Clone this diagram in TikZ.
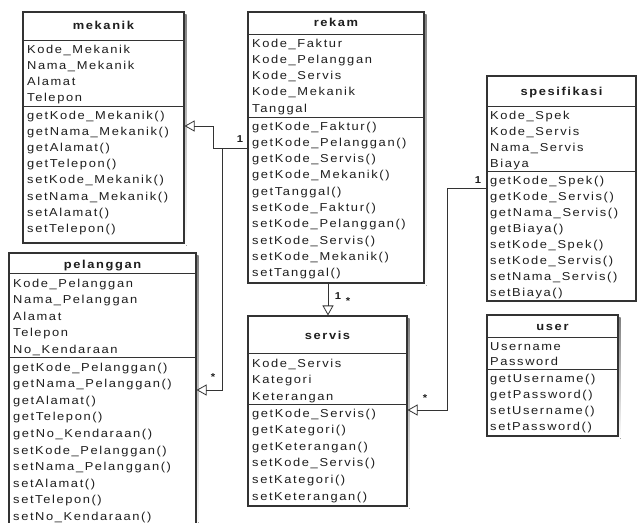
\documentclass[tikz,border=0pt]{standalone}
\usepackage{fontspec}
\setmainfont{Liberation Sans}[LetterSpace=14, FakeStretch=1.12]
\usetikzlibrary{arrows.meta}
\definecolor{txt}{HTML}{1E1E1E}
\definecolor{edge}{HTML}{333333}
\definecolor{shade}{HTML}{B8B8B8}
\tikzset{
  classbox/.style={draw=edge, line width=1.1pt, fill=white, inner sep=0pt},
  sepline/.style={draw=edge, line width=0.9pt},
  rowtext/.style={anchor=base west, inner sep=0pt, text=txt, font=\fontsize{11.5}{13}\selectfont},
  titletext/.style={anchor=base, inner sep=0pt, text=txt, font=\fontsize{11.5}{13}\selectfont\bfseries},
  gen/.style={draw=edge, line width=0.8pt, -{Triangle[open, length=10pt, width=11pt, line width=0.8pt]}},
  conn/.style={draw=edge, line width=0.8pt},
  mult/.style={inner sep=0pt, text=txt, font=\fontsize{10}{12}\selectfont\bfseries}
}
% #1 name, #2 x1, #3 x2, #4 top, #5 header line, #6 divider, #7 bottom, #8 title centre y, #9 title
\newcommand\umlbox[9]{%
  \fill[shade] (#2+2.5,#4+2.5) rectangle (#3+2.5,#7+2.5);
  \node[classbox, minimum width={#3-#2}, minimum height={#7-#4}] (#1) at ({(#2+#3)/2},{(#4+#7)/2}) {};
  \draw[sepline] (#2,#5) -- (#3,#5);
  \draw[sepline] (#2,#6) -- (#3,#6);
  \node[titletext] (#1-title) at ({(#2+#3)/2},#8+4) {#9};
}
% #1 prefix, #2 x, #3 first centre y, #4 pitch, #5 list
\newcommand\umlrows[5]{%
  \foreach \t [count=\i from 0] in {#5}
    \node[rowtext] (#1\i) at (#2,{#3+\i*#4+4}) {\t};
}
\begin{document}
\begin{tikzpicture}[x=1pt,y=-1pt]
\useasboundingbox[fill=white] (0,0) rectangle (637,522);

% mekanik
\umlbox{mekanik}{23}{184}{12}{40}{106}{243}{25}{mekanik}
\umlrows{mek-a}{27}{49}{16.2}{Kode\_Mekanik,Nama\_Mekanik,Alamat,Telepon}
\umlrows{mek-m}{27}{115}{16.2}{getKode\_Mekanik(),getNama\_Mekanik(),getAlamat(),getTelepon(),setKode\_Mekanik(),setNama\_Mekanik(),setAlamat(),setTelepon()}

% rekam
\umlbox{rekam}{248}{424}{12}{34}{117}{283}{22}{rekam}
\umlrows{rek-a}{252}{43}{16.3}{Kode\_Faktur,Kode\_Pelanggan,Kode\_Servis,Kode\_Mekanik,Tanggal}
\umlrows{rek-m}{252}{126}{16.3}{getKode\_Faktur(),getKode\_Pelanggan(),getKode\_Servis(),getKode\_Mekanik(),getTanggal(),setKode\_Faktur(),setKode\_Pelanggan(),setKode\_Servis(),setKode\_Mekanik(),setTanggal()}

% spesifikasi
\umlbox{spesifikasi}{487}{636}{76}{106}{171}{301}{91}{spesifikasi}
\umlrows{spe-a}{490}{115}{16}{Kode\_Spek,Kode\_Servis,Nama\_Servis,Biaya}
\umlrows{spe-m}{490}{180}{16}{getKode\_Spek(),getKode\_Servis(),getNama\_Servis(),getBiaya(),setKode\_Spek(),setKode\_Servis(),setNama\_Servis(),setBiaya()}

% servis
\umlbox{servis}{248}{407}{316}{353}{404}{506}{335}{servis}
\umlrows{ser-a}{252}{363}{16.5}{Kode\_Servis,Kategori,Keterangan}
\umlrows{ser-m}{252}{413}{16.6}{getKode\_Servis(),getKategori(),getKeterangan(),setKode\_Servis(),setKategori(),setKeterangan()}

% pelanggan
\umlbox{pelanggan}{9}{196}{253}{273}{357}{532}{264}{pelanggan}
\umlrows{pel-a}{13}{283}{16.5}{Kode\_Pelanggan,Nama\_Pelanggan,Alamat,Telepon,No\_Kendaraan}
\umlrows{pel-m}{13}{367}{16.6}{getKode\_Pelanggan(),getNama\_Pelanggan(),getAlamat(),getTelepon(),getNo\_Kendaraan(),setKode\_Pelanggan(),setNama\_Pelanggan(),setAlamat(),setTelepon(),setNo\_Kendaraan()}

% user
\umlbox{user}{487}{618}{315}{337}{369}{436}{326}{user}
\umlrows{usr-a}{490}{346}{15.5}{Username,Password}
\umlrows{usr-m}{490}{378}{16}{getUsername(),getPassword(),setUsername(),setPassword()}

% connectors
\coordinate (rkw) at (248,148);
\coordinate (m2) at (213,148);
\coordinate (m1) at (213,126);
\coordinate (jn) at (222,148);
\coordinate (p1) at (222,390);
\coordinate (rs) at (328,283);
\coordinate (s1) at (447,188);
\coordinate (s2) at (447,410);

\draw[gen] (rkw) -- (m2) -- (m1) -- (mekanik.east |- m1);
\draw[gen] (jn) -- (p1) -- (pelanggan.east |- p1);
\draw[gen] (rs) -- (servis.north -| rs);
\draw[gen] (spesifikasi.west |- s1) -- (s1) -- (s2) -- (servis.east |- s2);

\node[mult] (lab1) at (240,139) {1};
\node[mult] (lab2) at (213,377) {*};
\node[mult] (lab3) at (338,296) {1};
\node[mult] (lab4) at (348,301) {*};
\node[mult] (lab5) at (478,180) {1};
\node[mult] (lab6) at (425,398) {*};
\end{tikzpicture}
\end{document}
